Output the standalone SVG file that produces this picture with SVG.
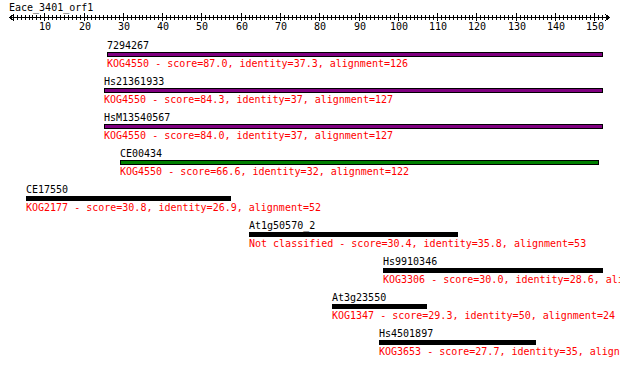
<svg xmlns="http://www.w3.org/2000/svg" width="620" height="365" viewBox="0 0 620 365">
<style>
text{font-family:"DejaVu Sans Mono","Liberation Mono",monospace;font-size:10px}
.name{fill:#000}
.info{fill:#ff0000}
.num{text-anchor:middle;fill:#000}
.bar{stroke:#000;stroke-width:1}
.purple{fill:#800080}
.green{fill:#008000}
.solid{fill:#000}
.tick{stroke:#000;stroke-width:1;fill:none}
</style>
<rect width="620" height="365" fill="#fff"/>
<g id="ruler" shape-rendering="crispEdges">
<text class="name" x="9" y="11">Eace_3401_orf1</text>
<path class="tick" d="M9 17.5H610"/>
<path class="tick" d="M9 17.5L14 14.5M9 17.5L14 20.5M610 17.5L605 14.5M610 17.5L605 20.5"/>
<path class="tick" d="M13.5 15V20M17.5 15V20M21.5 15V20M25.5 15V20M29.5 15V20M32.5 15V20M36.5 15V20M40.5 15V20M48.5 15V20M52.5 15V20M56.5 15V20M60.5 15V20M64.5 15V20M68.5 15V20M72.5 15V20M76.5 15V20M80.5 15V20M87.5 15V20M91.5 15V20M95.5 15V20M99.5 15V20M103.5 15V20M107.5 15V20M111.5 15V20M115.5 15V20M119.5 15V20M127.5 15V20M131.5 15V20M135.5 15V20M139.5 15V20M142.5 15V20M146.5 15V20M150.5 15V20M154.5 15V20M158.5 15V20M166.5 15V20M170.5 15V20M174.5 15V20M178.5 15V20M182.5 15V20M186.5 15V20M190.5 15V20M194.5 15V20M197.5 15V20M205.5 15V20M209.5 15V20M213.5 15V20M217.5 15V20M221.5 15V20M225.5 15V20M229.5 15V20M233.5 15V20M237.5 15V20M245.5 15V20M249.5 15V20M252.5 15V20M256.5 15V20M260.5 15V20M264.5 15V20M268.5 15V20M272.5 15V20M276.5 15V20M284.5 15V20M288.5 15V20M292.5 15V20M296.5 15V20M300.5 15V20M304.5 15V20M307.5 15V20M311.5 15V20M315.5 15V20M323.5 15V20M327.5 15V20M331.5 15V20M335.5 15V20M339.5 15V20M343.5 15V20M347.5 15V20M351.5 15V20M355.5 15V20M362.5 15V20M366.5 15V20M370.5 15V20M374.5 15V20M378.5 15V20M382.5 15V20M386.5 15V20M390.5 15V20M394.5 15V20M402.5 15V20M406.5 15V20M410.5 15V20M414.5 15V20M417.5 15V20M421.5 15V20M425.5 15V20M429.5 15V20M433.5 15V20M441.5 15V20M445.5 15V20M449.5 15V20M453.5 15V20M457.5 15V20M461.5 15V20M465.5 15V20M469.5 15V20M472.5 15V20M480.5 15V20M484.5 15V20M488.5 15V20M492.5 15V20M496.5 15V20M500.5 15V20M504.5 15V20M508.5 15V20M512.5 15V20M520.5 15V20M524.5 15V20M527.5 15V20M531.5 15V20M535.5 15V20M539.5 15V20M543.5 15V20M547.5 15V20M551.5 15V20M559.5 15V20M563.5 15V20M567.5 15V20M571.5 15V20M575.5 15V20M579.5 15V20M582.5 15V20M586.5 15V20M590.5 15V20M598.5 15V20M602.5 15V20M606.5 15V20"/>
<path class="tick" d="M44.5 13V21M84.5 13V21M123.5 13V21M162.5 13V21M201.5 13V21M241.5 13V21M280.5 13V21M319.5 13V21M359.5 13V21M398.5 13V21M437.5 13V21M476.5 13V21M516.5 13V21M555.5 13V21M594.5 13V21"/>
<text class="num" x="45" y="30">10</text>
<text class="num" x="85" y="30">20</text>
<text class="num" x="124" y="30">30</text>
<text class="num" x="163" y="30">40</text>
<text class="num" x="202" y="30">50</text>
<text class="num" x="242" y="30">60</text>
<text class="num" x="281" y="30">70</text>
<text class="num" x="320" y="30">80</text>
<text class="num" x="360" y="30">90</text>
<text class="num" x="399" y="30">100</text>
<text class="num" x="438" y="30">110</text>
<text class="num" x="477" y="30">120</text>
<text class="num" x="517" y="30">130</text>
<text class="num" x="556" y="30">140</text>
<text class="num" x="595" y="30">150</text>
</g>
<g id="hit-7294267">
<text class="name" x="107" y="49">7294267</text>
<rect class="bar purple" x="107.5" y="52.5" width="495" height="4" shape-rendering="crispEdges"/>
<text class="info" x="107" y="67">KOG4550 - score=87.0, identity=37.3, alignment=126</text>
</g>
<g id="hit-Hs21361933">
<text class="name" x="104" y="85">Hs21361933</text>
<rect class="bar purple" x="104.5" y="88.5" width="498" height="4" shape-rendering="crispEdges"/>
<text class="info" x="104" y="103">KOG4550 - score=84.3, identity=37, alignment=127</text>
</g>
<g id="hit-HsM13540567">
<text class="name" x="104" y="121">HsM13540567</text>
<rect class="bar purple" x="104.5" y="124.5" width="498" height="4" shape-rendering="crispEdges"/>
<text class="info" x="104" y="139">KOG4550 - score=84.0, identity=37, alignment=127</text>
</g>
<g id="hit-CE00434">
<text class="name" x="120" y="157">CE00434</text>
<rect class="bar green" x="120.5" y="160.5" width="478" height="4" shape-rendering="crispEdges"/>
<text class="info" x="120" y="175">KOG4550 - score=66.6, identity=32, alignment=122</text>
</g>
<g id="hit-CE17550">
<text class="name" x="26" y="193">CE17550</text>
<rect class="solid" x="26" y="196" width="205" height="5" shape-rendering="crispEdges"/>
<text class="info" x="26" y="211">KOG2177 - score=30.8, identity=26.9, alignment=52</text>
</g>
<g id="hit-At1g50570_2">
<text class="name" x="249" y="229">At1g50570_2</text>
<rect class="solid" x="249" y="232" width="209" height="5" shape-rendering="crispEdges"/>
<text class="info" x="249" y="247">Not classified - score=30.4, identity=35.8, alignment=53</text>
</g>
<g id="hit-Hs9910346">
<text class="name" x="383" y="265">Hs9910346</text>
<rect class="solid" x="383" y="268" width="220" height="5" shape-rendering="crispEdges"/>
<text class="info" x="383" y="283">KOG3306 - score=30.0, identity=28.6, ali</text>
</g>
<g id="hit-At3g23550">
<text class="name" x="332" y="301">At3g23550</text>
<rect class="solid" x="332" y="304" width="95" height="5" shape-rendering="crispEdges"/>
<text class="info" x="332" y="319">KOG1347 - score=29.3, identity=50, alignment=24</text>
</g>
<g id="hit-Hs4501897">
<text class="name" x="379" y="337">Hs4501897</text>
<rect class="solid" x="379" y="340" width="157" height="5" shape-rendering="crispEdges"/>
<text class="info" x="379" y="355">KOG3653 - score=27.7, identity=35, align</text>
</g>
</svg>
